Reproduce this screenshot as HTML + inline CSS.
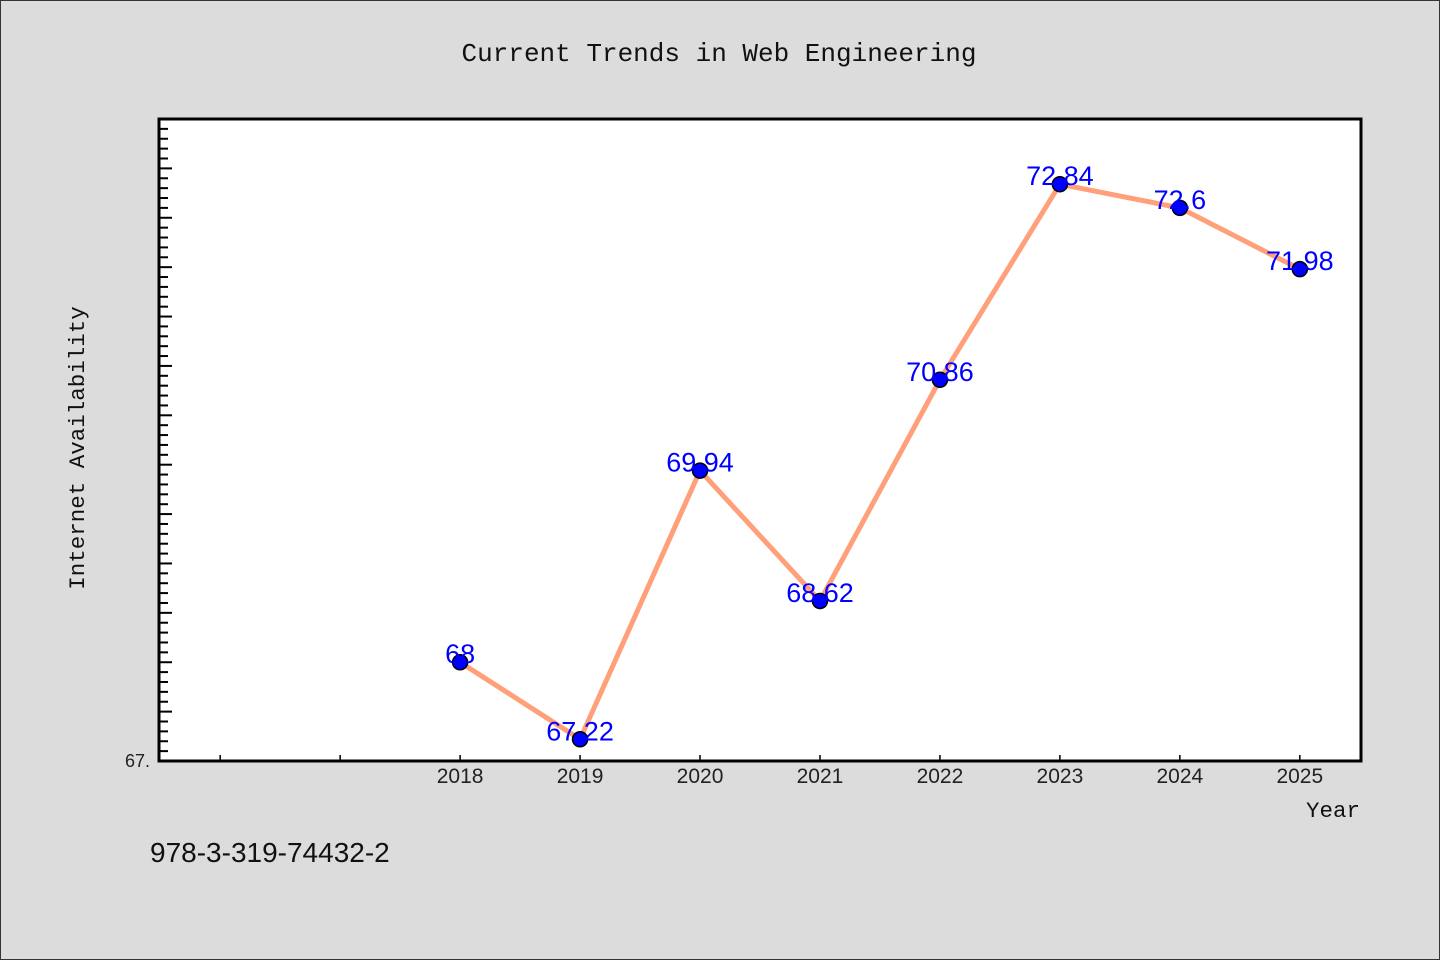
<!DOCTYPE html>
<html><head><meta charset="utf-8"><style>
body{margin:0;background:#dcdcdc;}
svg{display:block}
</style></head><body>
<svg width="1440" height="960" xmlns="http://www.w3.org/2000/svg">
<rect x="0.5" y="0.5" width="1439" height="959" fill="#dcdcdc" stroke="#333"/>
<text x="719" y="61" text-anchor="middle" font-family="Liberation Mono, monospace" font-size="26" fill="#111">Current Trends in Web Engineering</text>
<rect x="159" y="119" width="1202" height="642" fill="#fff"/>
<g id="ticks"></g>
<g id="series"></g>
<rect x="159" y="119" width="1202" height="642" fill="none" stroke="#000" stroke-width="3"/>
<text x="125" y="767" font-family="Liberation Sans, sans-serif" font-size="18" fill="#222">67.</text>
<text transform="translate(84,448) rotate(-90)" text-anchor="middle" font-family="Liberation Mono, monospace" font-size="22.5" fill="#111">Internet Availability</text>
<text x="1360" y="817" text-anchor="end" font-family="Liberation Mono, monospace" font-size="22.5" fill="#111">Year</text>
<text x="150" y="862" font-family="Liberation Sans, sans-serif" font-size="28" fill="#111">978-3-319-74432-2</text>
</svg>
<script>
const categories=[2018,2019,2020,2021,2022,2023,2024,2025];
const values=[68,67.22,69.94,68.62,70.86,72.84,72.6,71.98];
const labels=["68","67.22","69.94","68.62","70.86","72.84","72.6","71.98"];
const NS="http://www.w3.org/2000/svg";
const X0=159,X1=1361,Y0=761,Y1=119;
const xmin=2015.49,xmax=2025.51,ymin=67,ymax=73.5;
const xs=v=>X0+(v-xmin)/(xmax-xmin)*(X1-X0);
const ys=v=>Y0-(v-ymin)/(ymax-ymin)*(Y0-Y1);
function mk(t,a,p){const e=document.createElementNS(NS,t);for(const k in a)e.setAttribute(k,a[k]);p.appendChild(e);return e;}
const tg=document.getElementById('ticks');
for(let i=1;i<=65;i++){const v=ymin+i*0.1;const y=ys(v);const major=i%5===0;
const t=mk('line',{x1:X0,x2:X0+(major?13:9),y1:y,y2:y,stroke:'#000','stroke-width':2},tg);
}
for(let yr=2016;yr<=2025;yr++){const x=xs(yr);
const t=mk('line',{x1:x,x2:x,y1:Y0,y2:Y0-6,stroke:'#000','stroke-width':1.5},tg);
}
categories.forEach(c=>{const t=mk('text',{x:xs(c),y:783,'text-anchor':'middle','font-family':'Liberation Sans, sans-serif','font-size':21,fill:'#222'},tg);t.textContent=c;
});
const sg=document.getElementById('series');
const pts=categories.map((c,i)=>xs(c)+','+ys(values[i])).join(' ');
const pl=mk('polyline',{points:pts,fill:'none',stroke:'#ffa07a','stroke-width':5,'stroke-linejoin':'round'},sg);

categories.forEach((c,i)=>{const m=mk('circle',{cx:xs(c),cy:ys(values[i]),r:7.5,fill:'#0000ff',stroke:'#000','stroke-width':1.5},sg);
});
categories.forEach((c,i)=>{const t=mk('text',{x:xs(c),y:ys(values[i])+1,'text-anchor':'middle','font-family':'Liberation Sans, sans-serif','font-size':27,fill:'#0000ff'},sg);t.textContent=labels[i];
});
</script>
</body></html>
